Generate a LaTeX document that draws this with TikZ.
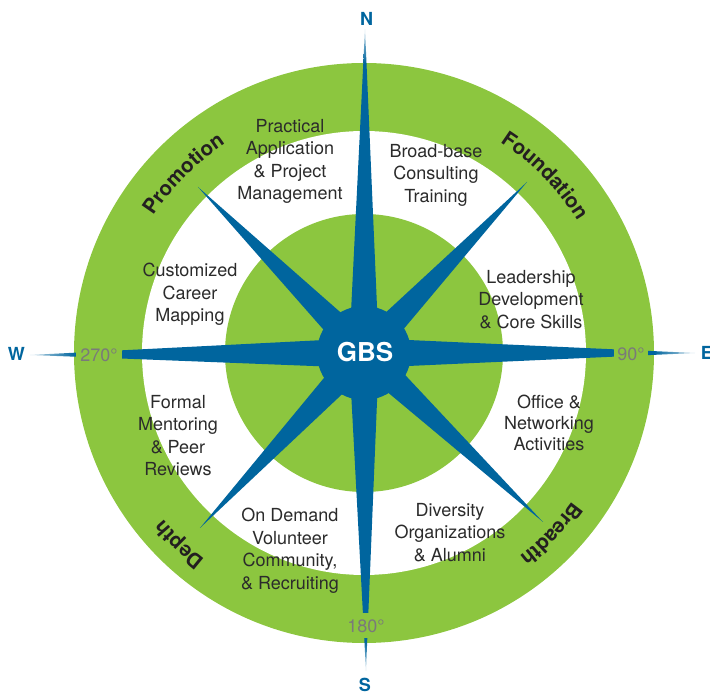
\documentclass[tikz,border=0pt]{standalone}
\usepackage{fontspec}
\setmainfont{TeX Gyre Heros}
\usetikzlibrary{calc,decorations.text}
\definecolor{ringgreen}{HTML}{8CC63F}
\definecolor{spikeblue}{HTML}{00659E}
\definecolor{txt}{HTML}{2B2B2B}
\definecolor{deg}{HTML}{7A7A7A}
\definecolor{lbl}{HTML}{231F20}
\begin{document}
\begin{tikzpicture}[x=1pt,y=1pt,
  body/.style={font=\fontsize{18}{22.5}\selectfont, text=txt, align=center, anchor=north, inner sep=0pt},
  degree/.style={font=\fontsize{18}{18}\selectfont, text=deg, fill=ringgreen, inner sep=0pt},
  compass/.style={font=\fontsize{18}{18}\selectfont\bfseries, text=spikeblue, inner sep=0pt},
  ringlabel/.style={decorate, decoration={text along path, text align=center, text color=lbl, text={|\fontsize{20.5}{20.5}\selectfont\bfseries|#1}}}]
\useasboundingbox (-364,-339) rectangle (346,353);
\coordinate (O) at (0,0);
% rings
\fill[ringgreen] (O) circle (290pt);
\fill[white] (O) circle (222pt);
\fill[ringgreen] (O) circle (139pt);
% diagonal spikes
\foreach \px/\py in {-166/166, 163/171, -164/-175, 179/-169} {
  \coordinate (T) at (\px,\py);
  \fill[spikeblue] ($(O)!15pt!90:(T)$) -- (T) -- ($(O)!15pt!-90:(T)$) -- cycle;
}
% main spikes: solid part
\fill[spikeblue] (-15,0) -- (-0.7,290) -- (2.5,290) -- (15,0) -- cycle;
\fill[spikeblue] (-15,0) -- (0.4,-288) -- (3.2,-288) -- (15,0) -- cycle;
\fill[spikeblue] (0,15) -- (-289,0.3) -- (-289,-3.7) -- (0,-15) -- cycle;
\fill[spikeblue] (0,15) -- (290,1.86) -- (290,-1.86) -- (0,-15) -- cycle;
% main spikes: fading outer tips
\shade[top color=spikeblue!25, bottom color=spikeblue] (-0.7,290) -- (1,324) -- (2.5,290) -- cycle;
\shade[bottom color=spikeblue!25, top color=spikeblue] (0.4,-288) -- (2,-318) -- (3.2,-288) -- cycle;
\shade[left color=spikeblue!25, right color=spikeblue] (-289,0.3) -- (-334,-2) -- (-289,-3.7) -- cycle;
\shade[right color=spikeblue!25, left color=spikeblue] (290,1.86) -- (331,0) -- (290,-1.86) -- cycle;
% degree labels
\node[degree, minimum width=46pt, minimum height=12pt] (d270) at (-265,-2) {270°};
\node[degree, minimum width=34pt, minimum height=12pt] (d90) at (267,-1) {90°};
\node[degree, minimum width=38pt, minimum height=25pt] (d180) at (2,-273) {180°};
% hub
\fill[spikeblue] (O) circle (47pt);
\node[text=white, font=\fontsize{26}{26}\selectfont\bfseries, inner sep=0pt] (gbs) at (1,0.5) {GBS};
% compass letters
\node[compass] (n) at (2.7,334.5) {N};
\node[compass] (s) at (1,-331.5) {S};
\node[compass] (w) at (-347.5,-1) {W};
\node[compass] (e) at (343,0.5) {E};
% ring labels
\path[ringlabel=Promotion] (160.2:251pt) arc[start angle=160.2, end angle=110.2, radius=251pt];
\path[ringlabel=Foundation] (69.4:251pt) arc[start angle=69.4, end angle=19.4, radius=251pt];
\path[ringlabel=Depth] (251:261pt) arc[start angle=251, end angle=201, radius=261pt];
\path[ringlabel=Breadth] (341:256pt) arc[start angle=341, end angle=291, radius=256pt];
% body texts
\node[body] (t1) at (-74,234) {Practical\\Application\\\& Project\\Management};
\node[body] (t2) at (72,209) {Broad-base\\Consulting\\Training};
\node[body] (t3) at (167,83) {Leadership\\Development\\\& Core Skills};
\node[body, font=\fontsize{18}{21}\selectfont] (t4) at (185,-42) {Office \&\\Networking\\Activities};
\node[body] (t5) at (86,-150) {Diversity\\Organizations\\\& Alumni};
\node[body] (t6) at (-74,-155) {On Demand\\Volunteer\\Community,\\\& Recruiting};
\node[body] (t7) at (-186,-42) {Formal\\Mentoring\\\& Peer\\Reviews};
\node[body] (t8) at (-174,90) {Customized\\Career\\Mapping};
\end{tikzpicture}
\end{document}
